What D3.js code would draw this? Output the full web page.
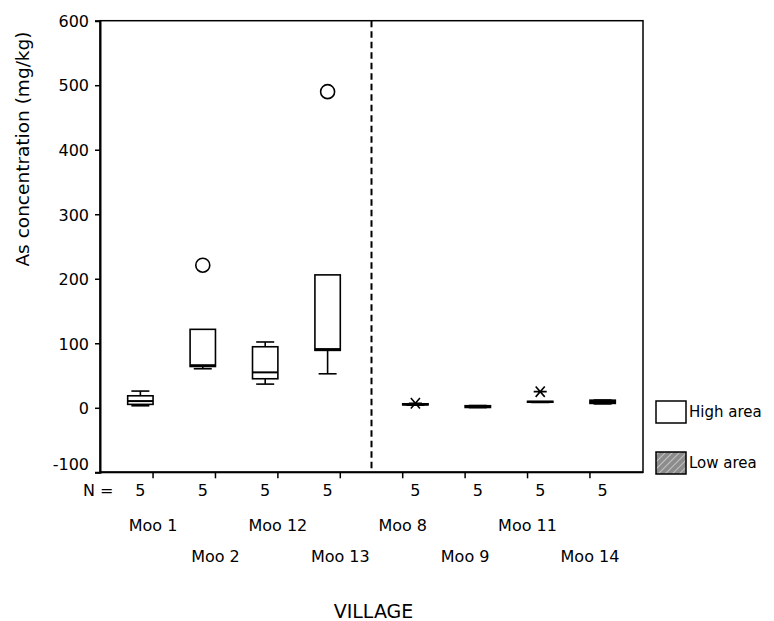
<!DOCTYPE html>
<html>
<head>
<meta charset="utf-8">
<script src="https://cdn.jsdelivr.net/npm/d3@7"></script>
<style>
  html, body { margin: 0; padding: 0; background: #fff; }
  svg text { font-family: "DejaVu Sans", Verdana, sans-serif; fill: #000; }
</style>
</head>
<body>
<svg id="chart" width="774" height="621"></svg>
<script>
// Arsenic concentration by village, split into high / low area clusters
const villages = ["Moo 1", "Moo 2", "Moo 12", "Moo 13", "Moo 8", "Moo 9", "Moo 11", "Moo 14"];
const areaOf   = ["High area", "High area", "High area", "High area", "Low area", "Low area", "Low area", "Low area"];
const areas    = ["High area", "Low area"];
const counts   = [5, 5, 5, 5, 5, 5, 5, 5];

const whiskerLow  = [3.1, 60.5, 36.7, 52.7, 4.0, 0.3, 8.3, 6.0];
const q1          = [5.3, 64.0, 45.0, 89.0, 4.5, 0.5, 8.6, 6.8];
const median      = [10.4, 66.0, 54.9, 91.0, 5.3, 1.5, 9.2, 9.0];
const q3          = [18.6, 121.6, 94.6, 206.0, 6.2, 3.2, 10.0, 11.8];
const whiskerHigh = [25.9, 121.6, 102.0, 206.0, 6.2, 3.5, 10.0, 12.0];
const outliers    = [[], [221], [], [490], [], [], [], []];
const extremes    = [[], [], [], [], [7], [], [25], []];

const yTicks = [-100, 0, 100, 200, 300, 400, 500, 600];

const svg = d3.select("#chart");
const plotL = 100, plotR = 643, plotT = 20.7, plotB = 472.3;

// hatched fill for the low area
const defs = svg.append("defs");
const pat = defs.append("pattern")
  .attr("id", "hatch").attr("patternUnits", "userSpaceOnUse")
  .attr("width", 5).attr("height", 5)
  .attr("patternTransform", "rotate(45)");
pat.append("rect").attr("width", 5).attr("height", 5).attr("fill", "#8c8c8c");
pat.append("line").attr("x1", 0).attr("y1", 0).attr("x2", 0).attr("y2", 5)
  .attr("stroke", "#d8d8d8").attr("stroke-width", 1.4);

const y = d3.scaleLinear().domain([-100, 600]).range([plotB, plotT]);
const x = d3.scaleBand().domain(villages).range([plotL, plotR])
  .paddingInner(0).paddingOuter(0.35);
const x1 = d3.scaleBand().domain(areas).range([0, x.bandwidth()])
  .paddingInner(0).paddingOuter(0.23);

const bw = x1.bandwidth();
const capW = 18;

// frame
svg.append("rect").attr("x", plotL).attr("y", plotT)
  .attr("width", plotR - plotL).attr("height", plotB - plotT)
  .attr("fill", "none").attr("stroke", "#000").attr("stroke-width", 1.5);

// group separator
const sepX = (x("Moo 13") + x.bandwidth() + x("Moo 8")) / 2;
svg.append("line")
  .attr("x1", sepX).attr("x2", sepX)
  .attr("y1", plotT).attr("y2", plotB)
  .attr("stroke", "#000").attr("stroke-width", 2)
  .attr("stroke-dasharray", "6.5,4");

// y axis
const yAxis = svg.append("g").attr("transform", `translate(${plotL},0)`)
  .call(d3.axisLeft(y).tickValues(yTicks).tickSize(5).tickPadding(6).tickFormat(d => String(d)));
yAxis.select(".domain").attr("stroke-width", 2);
yAxis.selectAll(".tick line").attr("stroke-width", 1.5);
yAxis.selectAll("text").style("font-size", "16px")
  .attr("dy", d => d === -100 ? "-0.2em" : "0.36em");

// x axis: ticks only, labels are drawn on two staggered rows
const xAxis = svg.append("g").attr("transform", `translate(0,${plotB})`)
  .call(d3.axisBottom(x).tickSize(6).tickFormat(""));
xAxis.select(".domain").attr("d", `M${plotL},0H${plotR}`).attr("stroke-width", 2);
xAxis.selectAll(".tick line").attr("stroke-width", 1.5);

const cx = (i) => x(villages[i]) + x1(areaOf[i]) + bw / 2;

// N counts
svg.append("text").attr("x", 83).attr("y", 496)
  .style("font-size", "16px").text("N =");
svg.selectAll("text.count").data(counts).join("text")
  .attr("class", "count")
  .attr("x", (d, i) => cx(i)).attr("y", 496)
  .attr("text-anchor", "middle").style("font-size", "16px").text(d => d);

// village labels, alternating rows
svg.selectAll("text.village").data(villages).join("text")
  .attr("class", "village")
  .attr("x", d => x(d) + x.bandwidth() / 2)
  .attr("y", (d, i) => i % 2 === 0 ? 531 : 562)
  .attr("text-anchor", "middle").style("font-size", "16px").text(d => d);

svg.append("text").attr("x", (plotL + plotR) / 2 + 2).attr("y", 618)
  .attr("text-anchor", "middle").style("font-size", "19px").text("VILLAGE");

svg.append("text")
  .attr("transform", "translate(29,149) rotate(-90)")
  .attr("text-anchor", "middle").style("font-size", "18.5px")
  .text("As concentration (mg/kg)");

// boxes
const g = svg.append("g");
villages.forEach((v, i) => {
  const c = cx(i);
  const fill = areaOf[i] === "Low area" ? "url(#hatch)" : "#fff";
  const bg = g.append("g").attr("stroke", "#000").attr("stroke-width", 1.6).attr("fill", "none");
  // whiskers
  if (whiskerHigh[i] > q3[i]) {
    bg.append("line").attr("x1", c).attr("x2", c).attr("y1", y(q3[i])).attr("y2", y(whiskerHigh[i]));
    bg.append("line").attr("x1", c - capW / 2).attr("x2", c + capW / 2)
      .attr("y1", y(whiskerHigh[i])).attr("y2", y(whiskerHigh[i]));
  }
  if (whiskerLow[i] < q1[i]) {
    bg.append("line").attr("x1", c).attr("x2", c).attr("y1", y(q1[i])).attr("y2", y(whiskerLow[i]));
    bg.append("line").attr("x1", c - capW / 2).attr("x2", c + capW / 2)
      .attr("y1", y(whiskerLow[i])).attr("y2", y(whiskerLow[i]));
  }
  bg.append("rect").attr("x", c - bw / 2).attr("width", bw)
    .attr("y", y(q3[i])).attr("height", y(q1[i]) - y(q3[i]))
    .attr("fill", fill);
  bg.append("line").attr("x1", c - bw / 2).attr("x2", c + bw / 2)
    .attr("y1", y(median[i])).attr("y2", y(median[i])).attr("stroke-width", 2);

  outliers[i].forEach(o => {
    bg.append("circle").attr("cx", c).attr("cy", y(o)).attr("r", 7).attr("fill", "#fff");
  });
  extremes[i].forEach(e => {
    const s = 6.5, yy = y(e);
    bg.append("path")
      .attr("d", `M${c - s},${yy}H${c + s}M${c - s * 0.7},${yy - s * 0.8}L${c + s * 0.7},${yy + s * 0.8}M${c - s * 0.7},${yy + s * 0.8}L${c + s * 0.7},${yy - s * 0.8}`)
      .attr("stroke-width", 1.6);
  });
});

// legend
const legend = svg.append("g");
areas.forEach((a, k) => {
  const ly = 412 + k * 51;
  legend.append("rect").attr("x", 656).attr("y", ly - 11).attr("width", 30).attr("height", 22)
    .attr("fill", a === "Low area" ? "url(#hatch)" : "#fff")
    .attr("stroke", "#000").attr("stroke-width", 1.5);
  legend.append("text").attr("x", 689).attr("y", ly).attr("dy", "0.36em")
    .style("font-size", "15px").text(a);
});
</script>
</body>
</html>
